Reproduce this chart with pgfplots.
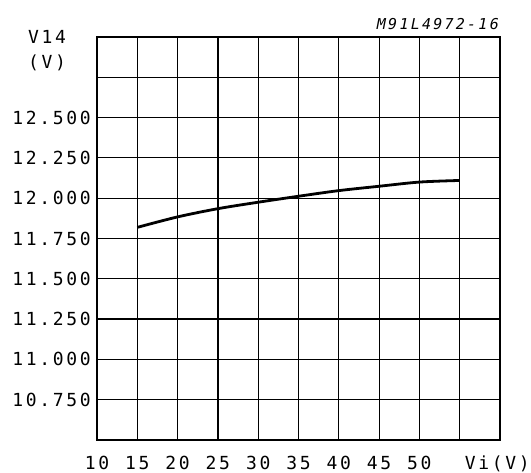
\documentclass[border=0pt]{standalone}
\usepackage{pgfplots}
\pgfplotsset{compat=1.18}
\usepackage{fontspec}
\setmainfont{DejaVu Sans Mono}[LetterSpace=15]
\begin{document}
\begin{tikzpicture}
\useasboundingbox (0pt,0pt) rectangle (531pt,473pt);
\begin{axis}[
  at={(97pt,33pt)}, anchor=south west,
  scale only axis, width=403pt, height=403pt,
  xmin=10, xmax=60, ymin=10.5, ymax=13,
  xtick={10,15,20,25,30,35,40,45,50,55,60},
  xticklabels={10,15,20,25,30,35,40,45,50,,},
  ytick={10.5,10.75,11,11.25,11.5,11.75,12,12.25,12.5,12.75,13},
  yticklabels={,10.750,11.000,11.250,11.500,11.750,12.000,12.250,12.500,,},
  major tick length=0pt,
  grid=major,
  grid style={black, line width=1.2pt},
  axis line style={black, line width=1.2pt},
  tick label style={font=\fontsize{18}{18}\selectfont, inner sep=0pt},
  yticklabel style={anchor=east, xshift=-6pt},
  xticklabel style={anchor=base, yshift=-30pt},
]
\addplot[black, line width=2.8pt, smooth] coordinates {
  (15,11.819) (20,11.884) (25,11.935) (30,11.975) (35,12.012)
  (40,12.047) (45,12.074) (50,12.100) (55,12.110)
};
\end{axis}
\node[font=\fontsize{18}{18}\selectfont, inner sep=0pt] at (47pt,436pt) {V14};
\node[font=\fontsize{18}{18}\selectfont, inner sep=0pt] at (47pt,410pt) {(V)};
\node[font=\fontsize{15}{15}\selectfont\itshape, inner sep=0pt, anchor=base east] at (499pt,443pt) {M91L4972-16};
\node[font=\fontsize{18}{18}\selectfont, inner sep=0pt, anchor=base east] at (530pt,3pt) {Vi(V)};
\end{tikzpicture}
\end{document}
